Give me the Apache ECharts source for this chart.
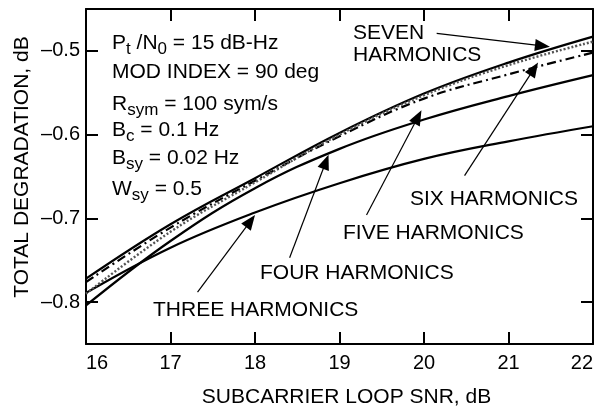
<!DOCTYPE html>
<html>
<head>
<meta charset="utf-8">
<script src="https://cdn.jsdelivr.net/npm/echarts@6/dist/echarts.min.js"></script>
<style>
html,body{margin:0;padding:0;background:#fff;}
#c{width:605px;height:408px;}
</style>
</head>
<body>
<div id="c"></div>
<script>
// ---- data ----
const snr = [16, 17, 18, 19, 20, 21, 22];
const threeHarm = [-0.789, -0.735, -0.693, -0.658, -0.629, -0.608, -0.590];
const fourHarm  = [-0.804, -0.727, -0.664, -0.617, -0.582, -0.554, -0.529];
const fiveHarm  = [-0.776, -0.711, -0.655, -0.602, -0.557, -0.528, -0.502];
const sixHarm   = [-0.790, -0.716, -0.657, -0.600, -0.553, -0.517, -0.489];
const sevenHarm = [-0.772, -0.707, -0.652, -0.598, -0.551, -0.514, -0.483];
const xTicks = [16, 17, 18, 19, 20, 21, 22];
const yTicks = [-0.8, -0.7, -0.6, -0.5];
// annotation arrows (data coords): tail -> tip
const arrowTail = [[17.32, -0.788], [18.41, -0.747], [19.32, -0.696], [20.48, -0.649], [20.15, -0.479]];
const arrowHead = [[18.00, -0.696], [18.87, -0.624], [19.97, -0.571], [21.35, -0.514], [21.49, -0.495]];

const FONT = '"Liberation Sans", Arial, Helvetica, sans-serif';
const chart = echarts.init(document.getElementById('c'), null, {renderer: 'canvas', width: 605, height: 408});

const pairs = a => snr.map((x, i) => [x, a[i]]);
const solid = {color: '#000', width: 2.2, type: 'solid'};
const HEAD = [12, 15];

function xAxisDef(pos, labels) {
  return {
    type: 'value', min: xTicks[0], max: xTicks[xTicks.length - 1], interval: 1, position: pos,
    axisLine: {show: true, lineStyle: {color: '#000', width: 2}},
    axisTick: {show: true, inside: true, length: 12, lineStyle: {color: '#000', width: 2}},
    axisLabel: {show: labels, color: '#000', fontSize: 20, fontFamily: FONT, margin: 9,
      alignMinLabel: 'left', alignMaxLabel: 'right'},
    splitLine: {show: false}
  };
}
function yAxisDef(pos, labels) {
  return {
    type: 'value', min: -0.85, max: -0.45, position: pos,
    axisLine: {show: true, lineStyle: {color: '#000', width: 2}},
    axisTick: {show: true, inside: true, length: 12, customValues: yTicks, lineStyle: {color: '#000', width: 2}},
    axisLabel: {show: labels, customValues: yTicks, color: '#000', fontSize: 20, fontFamily: FONT, margin: 6,
      formatter: v => '\u2013' + Math.abs(v).toFixed(1)},
    splitLine: {show: false}
  };
}

const mainRich = {
  m: {fontSize: 21, fontFamily: FONT, color: '#000'},
  s: {fontSize: 17, fontFamily: FONT, color: '#000', padding: [12, 0, 0, 0]}
};
function richText(x, y, text) {
  return {type: 'text', x: x, y: y, silent: true,
    style: {text: text, rich: mainRich, align: 'left', verticalAlign: 'middle', fill: '#000'}};
}
function plainText(x, y, text, align) {
  return {type: 'text', x: x, y: y, silent: true,
    style: {text: text, fontSize: 21, fontFamily: FONT, fill: '#000', align: align || 'left', verticalAlign: 'middle', lineHeight: 22}};
}

const option = {
  animation: false,
  backgroundColor: '#fff',
  grid: {left: 86, right: 12, top: 9, bottom: 64, containLabel: false},
  xAxis: [xAxisDef('bottom', true), xAxisDef('top', false)],
  yAxis: [yAxisDef('left', true), yAxisDef('right', false)],
  series: [
    {name: 'THREE HARMONICS', type: 'line', data: pairs(threeHarm), smooth: 0.4, symbol: 'none', lineStyle: solid},
    {name: 'FOUR HARMONICS', type: 'line', data: pairs(fourHarm), smooth: 0.4, symbol: 'none', lineStyle: solid},
    {name: 'FIVE HARMONICS', type: 'line', data: pairs(fiveHarm), smooth: 0.4, symbol: 'none',
      lineStyle: {color: '#000', width: 2.2, type: [9, 4, 2, 4]}},
    {name: 'SEVEN HARMONICS', type: 'line', data: pairs(sevenHarm), smooth: 0.4, symbol: 'none', lineStyle: solid},
    {name: 'SIX HARMONICS', type: 'line', data: pairs(sixHarm), smooth: 0.4, symbol: 'none',
      lineStyle: {color: '#555', width: 2.4, type: [2, 2]}}
  ],
  graphic: [
    richText(112, 43.5, '{m|P}{s|t}{m| /N}{s|0}{m| = 15 dB-Hz}'),
    richText(112, 72.5, '{m|MOD INDEX = 90 deg}'),
    richText(112, 104.5, '{m|R}{s|sym}{m| = 100 sym/s}'),
    richText(112, 130, '{m|B}{s|c}{m| = 0.1 Hz}'),
    richText(112, 158.5, '{m|B}{s|sy}{m| = 0.02 Hz}'),
    richText(112, 189.5, '{m|W}{s|sy}{m| = 0.5}'),
    plainText(353, 44, 'SEVEN\nHARMONICS'),
    plainText(410, 199.5, 'SIX HARMONICS'),
    plainText(343, 233, 'FIVE HARMONICS'),
    plainText(260, 273.5, 'FOUR HARMONICS'),
    plainText(153, 310, 'THREE HARMONICS'),
    plainText(346.5, 397, 'SUBCARRIER LOOP SNR, dB', 'center'),
    {type: 'text', x: 22.5, y: 167, rotation: Math.PI / 2, silent: true,
      style: {text: 'TOTAL DEGRADATION, dB', fontSize: 21, fontFamily: FONT, fill: '#000', align: 'center', verticalAlign: 'middle'}}
  ]
};
chart.setOption(option);

// arrows: the triangle symbol is centred on the line end, so pull the end back by half the head length
const arrowData = arrowTail.map((t, i) => {
  const p0 = chart.convertToPixel({gridIndex: 0}, t);
  const p1 = chart.convertToPixel({gridIndex: 0}, arrowHead[i]);
  const dx = p1[0] - p0[0], dy = p1[1] - p0[1];
  const len = Math.sqrt(dx * dx + dy * dy);
  const back = HEAD[1] / 2;
  const pe = [p1[0] - dx / len * back, p1[1] - dy / len * back];
  const end = chart.convertFromPixel({gridIndex: 0}, pe);
  return [{coord: t}, {coord: end}];
});
chart.setOption({
  series: [{}, {}, {}, {
    markLine: {
      silent: true, animation: false,
      symbol: ['none', 'triangle'], symbolSize: HEAD,
      label: {show: false},
      lineStyle: {color: '#000', width: 1.2, type: 'solid'},
      emphasis: {disabled: true},
      data: arrowData
    }
  }, {}]
});
</script>
</body>
</html>
